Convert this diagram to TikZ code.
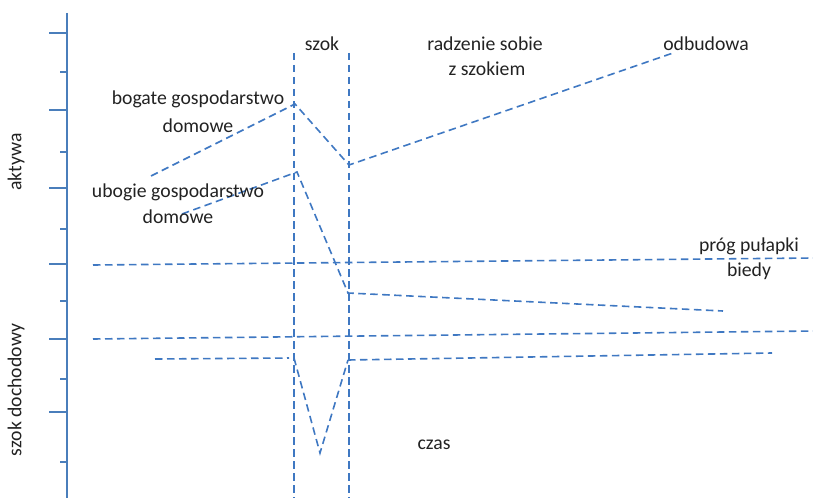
\documentclass[tikz,border=0pt]{standalone}
\usepackage{fontspec}
\setmainfont{Carlito}
\begin{document}
\definecolor{lineblue}{HTML}{3F78C2}
\definecolor{axisblue}{HTML}{4A7EBB}
\definecolor{txt}{HTML}{222222}
\begin{tikzpicture}[x=1bp,y=-1bp,
  dline/.style={draw=lineblue,line width=1.6bp,dash pattern=on 7.5bp off 4.5bp},
  axisline/.style={draw=axisblue,line width=1.7bp},
  lbl/.style={text=txt,font=\fontsize{19.8}{22}\selectfont,inner sep=0pt,align=center},
  vlbl/.style={lbl,rotate=90}]
\useasboundingbox (0,0) rectangle (813,498);
% vertical axis with ticks
\coordinate (axtop) at (67,13);
\coordinate (axbot) at (67,498);
\draw[axisline] (axtop) -- (axbot);
\foreach \y in {33,110,188,264,339,412} \draw[axisline] (49,\y) -- (67,\y);
\foreach \y in {72,152,229,301,379,462} \draw[axisline] (60,\y) -- (67,\y);
\node[vlbl] (aktywa) at (16,162) {aktywa};
\node[vlbl] (szokd) at (16,390) {szok dochodowy};
% shock window
\coordinate (s1t) at (294,53); \coordinate (s1b) at (294,498);
\coordinate (s2t) at (349,53); \coordinate (s2b) at (349,498);
\draw[dline] (s1t) -- (s1b);
\draw[dline] (s2t) -- (s2b);
\node[lbl] (szok) at (322,44) {szok};
% rich household
\coordinate (r0) at (151,176);
\coordinate (r1) at (295,104);
\coordinate (r2) at (349,165);
\coordinate (r3) at (673,53);
\draw[dline] (r0) -- (r1) -- (r2) -- (r3);
% poor household
\coordinate (p0) at (182,214);
\coordinate (p1) at (297,172);
\coordinate (p2) at (348,293);
\coordinate (p3) at (723,311);
\draw[dline] (p0) -- (p1) -- (p2) -- (p3);
% poverty trap threshold
\coordinate (t0) at (93,265); \coordinate (t1) at (813,258);
\draw[dline] (t0) -- (t1);
\coordinate (u0) at (93,339); \coordinate (u1) at (813,331);
\draw[dline] (u0) -- (u1);
% income shock
\coordinate (i0) at (155,359);
\coordinate (i1) at (289,358);
\coordinate (i2) at (294,358);
\coordinate (i3) at (320,453);
\coordinate (i4) at (348,360);
\coordinate (i5) at (772,353);
\draw[dline] (i0) -- (i1);
\draw[dline] (i2) -- (i3) -- (i4);
\draw[dline] (i4) -- (i5);
% labels
\node[lbl] (bog1) at (198,99) {bogate gospodarstwo};
\node[lbl] (bog2) at (198,126) {domowe};
\node[lbl] (ubo1) at (178,192) {ubogie gospodarstwo};
\node[lbl] (ubo2) at (178,217) {domowe};
\node[lbl] (radz1) at (485,44) {radzenie sobie};
\node[lbl] (radz2) at (487,69) {z szokiem};
\node[lbl] (odb) at (706,44) {odbudowa};
\node[lbl] (prog1) at (749,246) {próg pułapki};
\node[lbl] (prog2) at (749,271) {biedy};
\node[lbl] (czas) at (434,445) {czas};
\end{tikzpicture}
\end{document}
